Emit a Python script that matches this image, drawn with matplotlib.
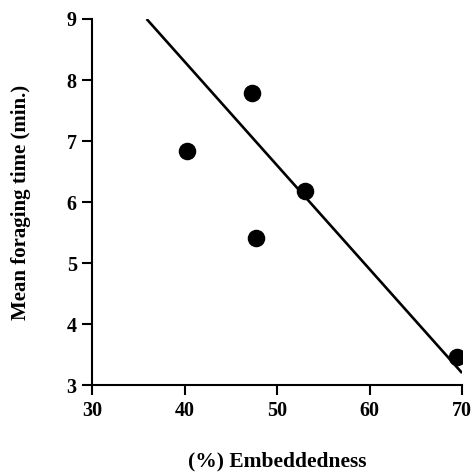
import matplotlib.pyplot as plt
import numpy as np

# values
embeddedness = [40.3, 47.3, 47.7, 53.0, 69.5]
foraging_time = [6.83, 7.79, 5.41, 6.19, 3.47]
line_x = [35.9, 70.0]
line_y = [9.0, 3.2]
x_ticks = [30, 40, 50, 60, 70]
y_ticks = [3, 4, 5, 6, 7, 8, 9]

plt.rcParams['font.family'] = ['Liberation Serif', 'DejaVu Serif']
plt.rcParams['font.weight'] = 'bold'

fig = plt.figure(figsize=(4.72, 4.75), dpi=100)
ax = fig.add_axes([0.195, 0.189, 0.784, 0.771])

ax.plot(line_x, line_y, color='black', linewidth=1.9, solid_capstyle='butt')
ax.scatter(embeddedness, foraging_time, s=135, color='black', zorder=3)

ax.set_xlim(30, 70)
ax.set_ylim(3, 9)
ax.set_xticks(x_ticks)
ax.set_yticks(y_ticks)

for side in ['top', 'right']:
    ax.spines[side].set_visible(False)
for side in ['left', 'bottom']:
    ax.spines[side].set_linewidth(1.5)

ax.tick_params(direction='out', length=7, width=1.5, labelsize=14.5, pad=4)
for lab in ax.get_xticklabels() + ax.get_yticklabels():
    lab.set_fontweight('bold')

ax.set_xlabel('(%) Embeddedness', fontsize=15.5, fontweight='bold', labelpad=22)
ax.set_ylabel('Mean foraging time (min.)', fontsize=15, fontweight='bold', labelpad=26)

fig.savefig('out.png', dpi=100)
